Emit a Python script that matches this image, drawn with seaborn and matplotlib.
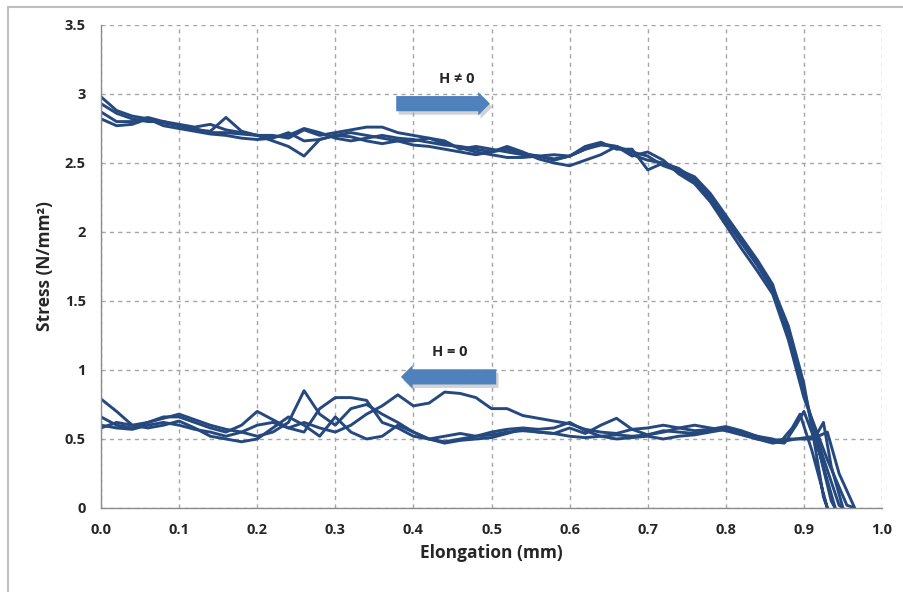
import matplotlib
matplotlib.use("Agg")
import matplotlib.pyplot as plt
import numpy as np
import pandas as pd
import seaborn as sns
from matplotlib.lines import Line2D
from matplotlib.patches import FancyArrow

# shared elongation grid (mm) for both branches
grid_x = [0.00, 0.02, 0.04, 0.06, 0.08, 0.10, 0.12, 0.14, 0.16, 0.18, 0.20,
          0.22, 0.24, 0.26, 0.28, 0.30, 0.32, 0.34, 0.36, 0.38, 0.40, 0.42,
          0.44, 0.46, 0.48, 0.50, 0.52, 0.54, 0.56, 0.58, 0.60, 0.62, 0.64,
          0.66, 0.68, 0.70, 0.72, 0.74, 0.76, 0.78, 0.80, 0.82, 0.84, 0.86]

# loading branch (H != 0), stress in N/mm2
upper_a = [2.98, 2.88, 2.84, 2.82, 2.79, 2.77, 2.75, 2.72, 2.72, 2.71, 2.70,
           2.66, 2.62, 2.55, 2.67, 2.70, 2.72, 2.70, 2.68, 2.66, 2.66, 2.68,
           2.64, 2.61, 2.58, 2.56, 2.54, 2.54, 2.55, 2.53, 2.55, 2.60, 2.63,
           2.62, 2.56, 2.52, 2.50, 2.46, 2.38, 2.26, 2.10, 1.94, 1.78, 1.60]
upper_b = [2.93, 2.86, 2.82, 2.80, 2.80, 2.78, 2.76, 2.78, 2.74, 2.72, 2.70,
           2.69, 2.70, 2.75, 2.72, 2.68, 2.66, 2.68, 2.70, 2.68, 2.67, 2.65,
           2.63, 2.62, 2.60, 2.58, 2.60, 2.57, 2.55, 2.56, 2.55, 2.60, 2.64,
           2.62, 2.58, 2.55, 2.48, 2.44, 2.36, 2.24, 2.08, 1.92, 1.76, 1.58]
upper_c = [2.87, 2.80, 2.80, 2.83, 2.80, 2.77, 2.74, 2.73, 2.83, 2.73, 2.70,
           2.70, 2.68, 2.74, 2.70, 2.72, 2.74, 2.76, 2.76, 2.72, 2.70, 2.68,
           2.66, 2.60, 2.62, 2.60, 2.58, 2.56, 2.55, 2.52, 2.55, 2.62, 2.65,
           2.60, 2.60, 2.45, 2.50, 2.45, 2.40, 2.28, 2.12, 1.96, 1.80, 1.62]
upper_d = [2.82, 2.77, 2.78, 2.82, 2.77, 2.75, 2.73, 2.71, 2.70, 2.68, 2.67,
           2.68, 2.72, 2.66, 2.67, 2.70, 2.69, 2.66, 2.64, 2.66, 2.63, 2.62,
           2.60, 2.58, 2.56, 2.58, 2.62, 2.58, 2.53, 2.50, 2.48, 2.52, 2.56,
           2.62, 2.55, 2.58, 2.52, 2.42, 2.35, 2.22, 2.05, 1.88, 1.72, 1.55]

# drop to zero and return to the unloading branch
tail_a_x = [0.88, 0.90, 0.915, 0.925, 0.930, 0.910, 0.895, 0.885, 0.870]
tail_a_y = [1.32, 0.90, 0.42, 0.08, 0.00, 0.42, 0.68, 0.58, 0.48]
tail_b_x = [0.88, 0.90, 0.920, 0.935, 0.940, 0.920, 0.900, 0.890, 0.875]
tail_b_y = [1.28, 0.86, 0.40, 0.05, 0.00, 0.40, 0.70, 0.60, 0.47]
tail_c_x = [0.88, 0.90, 0.925, 0.945, 0.950, 0.935, 0.925, 0.915, 0.890]
tail_c_y = [1.25, 0.82, 0.36, 0.02, 0.00, 0.30, 0.62, 0.52, 0.50]
tail_d_x = [0.88, 0.90, 0.930, 0.955, 0.965, 0.945, 0.930, 0.910, 0.880]
tail_d_y = [1.22, 0.80, 0.35, 0.02, 0.00, 0.25, 0.55, 0.50, 0.50]

# unloading branch (H = 0), listed in ascending elongation
lower_a = [0.79, 0.70, 0.60, 0.62, 0.66, 0.66, 0.62, 0.58, 0.55, 0.60, 0.70,
           0.64, 0.58, 0.55, 0.72, 0.80, 0.80, 0.78, 0.62, 0.58, 0.52, 0.50,
           0.52, 0.54, 0.52, 0.53, 0.55, 0.56, 0.55, 0.54, 0.52, 0.51, 0.52,
           0.53, 0.52, 0.53, 0.56, 0.55, 0.54, 0.56, 0.58, 0.55, 0.52, 0.50]
lower_b = [0.60, 0.58, 0.57, 0.60, 0.62, 0.60, 0.57, 0.55, 0.52, 0.55, 0.60,
           0.62, 0.58, 0.62, 0.58, 0.55, 0.60, 0.68, 0.74, 0.82, 0.74, 0.76,
           0.84, 0.83, 0.80, 0.72, 0.72, 0.67, 0.65, 0.63, 0.61, 0.57, 0.55,
           0.54, 0.57, 0.58, 0.60, 0.58, 0.56, 0.57, 0.59, 0.56, 0.52, 0.48]
lower_c = [0.66, 0.60, 0.58, 0.62, 0.65, 0.68, 0.64, 0.60, 0.57, 0.55, 0.52,
           0.55, 0.62, 0.85, 0.68, 0.60, 0.72, 0.75, 0.68, 0.62, 0.55, 0.50,
           0.48, 0.50, 0.52, 0.55, 0.57, 0.58, 0.57, 0.58, 0.62, 0.56, 0.52,
           0.50, 0.51, 0.52, 0.50, 0.52, 0.53, 0.55, 0.57, 0.55, 0.50, 0.47]
lower_d = [0.58, 0.62, 0.60, 0.58, 0.60, 0.63, 0.58, 0.52, 0.50, 0.48, 0.50,
           0.58, 0.66, 0.60, 0.52, 0.66, 0.55, 0.50, 0.52, 0.60, 0.55, 0.50,
           0.47, 0.49, 0.50, 0.51, 0.54, 0.57, 0.55, 0.54, 0.58, 0.54, 0.60,
           0.65, 0.57, 0.53, 0.55, 0.58, 0.60, 0.58, 0.56, 0.53, 0.50, 0.49]

x_ticks = [0.0, 0.1, 0.2, 0.3, 0.4, 0.5, 0.6, 0.7, 0.8, 0.9, 1.0]
y_ticks = [0, 0.5, 1, 1.5, 2, 2.5, 3, 3.5]
x_labels = ["0.0", "0.1", "0.2", "0.3", "0.4", "0.5", "0.6", "0.7", "0.8", "0.9", "1.0"]
y_labels = ["0", "0.5", "1", "1.5", "2", "2.5", "3", "3.5"]

LINE = "#25497f"
ARROW = "#4f81bd"
GRID = "#a6a6a6"

sns.set_style("white")
plt.rcParams["font.family"] = ["Open Sans", "DejaVu Sans"]


def build_loop(name, upper, tail_x, tail_y, lower):
    xs = list(grid_x) + list(tail_x) + list(grid_x[::-1])
    ys = list(upper) + list(tail_y) + list(lower[::-1])
    return pd.DataFrame({"x": xs, "y": ys, "run": name, "order": range(len(xs))})


df = pd.concat([
    build_loop("a", upper_a, tail_a_x, tail_a_y, lower_a),
    build_loop("b", upper_b, tail_b_x, tail_b_y, lower_b),
    build_loop("c", upper_c, tail_c_x, tail_c_y, lower_c),
    build_loop("d", upper_d, tail_d_x, tail_d_y, lower_d),
], ignore_index=True)

fig = plt.figure(figsize=(9.04, 5.92), dpi=100)
ax = fig.add_axes([0.1117, 0.1419, 0.8640, 0.8159])

sns.lineplot(data=df, x="x", y="y", units="run", estimator=None, sort=False,
             color=LINE, lw=2.1, ax=ax, legend=False)

ax.set_xlim(0, 1.0)
ax.set_ylim(0, 3.5)
ax.set_xticks(x_ticks)
ax.set_xticklabels(x_labels)
ax.set_yticks(y_ticks)
ax.set_yticklabels(y_labels)
for lab in ax.get_xticklabels() + ax.get_yticklabels():
    lab.set_fontweight("bold")
    lab.set_fontsize(10.5)
ax.tick_params(axis="both", direction="out", length=5, width=1, color="#8c8c8c",
               pad=6)
ax.grid(True, color=GRID, linestyle=(0, (3, 3)), lw=1)
ax.set_axisbelow(True)
for side in ["top", "right"]:
    ax.spines[side].set_visible(False)
for side in ["left", "bottom"]:
    ax.spines[side].set_color("#8c8c8c")
    ax.spines[side].set_linewidth(1)

ax.set_xlabel("Elongation (mm)", fontsize=12.5, fontweight="bold", labelpad=5)
ax.set_ylabel("Stress (N/mm²)", fontsize=12.5, fontweight="bold", labelpad=8)

# direction arrows, each with a soft shadow
arrows = [(0.378, 2.93, 0.120), (0.506, 0.95, -0.122)]
for x0, y0, dx in arrows:
    ax.add_patch(FancyArrow(x0 + 0.003, y0 - 0.025, dx, 0, width=0.11,
                            head_width=0.17, head_length=0.015,
                            length_includes_head=True, color="#7f7f7f",
                            alpha=0.35, lw=0, zorder=3))
    ax.add_patch(FancyArrow(x0, y0, dx, 0, width=0.11, head_width=0.17,
                            head_length=0.015, length_includes_head=True,
                            color=ARROW, lw=0, zorder=4))
ax.text(0.455, 3.06, "H ≠ 0", ha="center", va="bottom", fontsize=10.5,
        fontweight="bold")
ax.text(0.447, 1.08, "H = 0", ha="center", va="bottom", fontsize=10.5,
        fontweight="bold")

# chart area border
fig.add_artist(Line2D([8 / 904, 8 / 904], [0, 1 - 7 / 592],
                      transform=fig.transFigure, color="#bfbfbf", lw=1.5))
fig.add_artist(Line2D([8 / 904, 1], [1 - 7 / 592, 1 - 7 / 592],
                      transform=fig.transFigure, color="#bfbfbf", lw=1.5))

fig.savefig("out.png", dpi=100)
plt.close(fig)
